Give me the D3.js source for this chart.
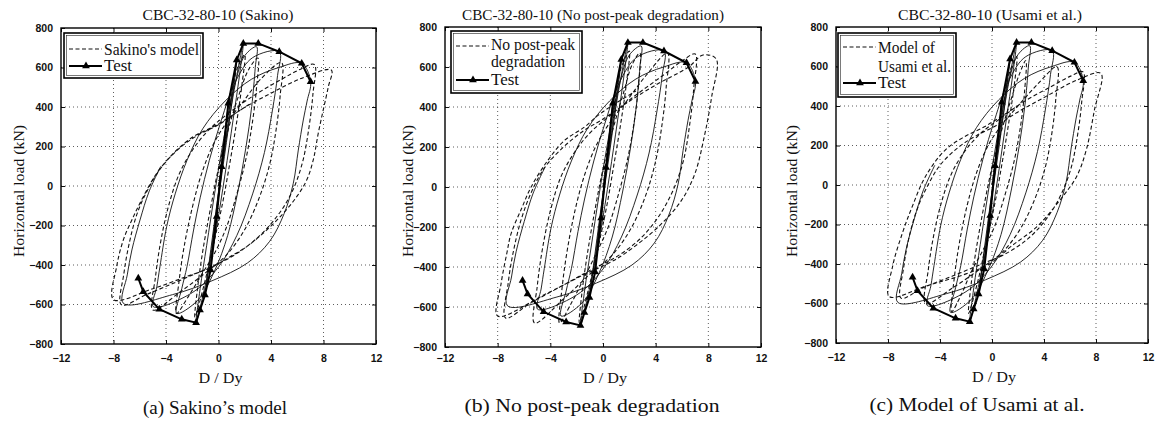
<!DOCTYPE html>
<html>
<head>
<meta charset="utf-8">
<script src="https://cdn.jsdelivr.net/npm/d3@7"></script>
<style>
  body { margin: 0; background: #fff; }
  svg { display: block; }
</style>
</head>
<body>
<svg id="chart" width="1159" height="426"></svg>
<script>
// Tick values
const xTicks = [-12, -8, -4, 0, 4, 8, 12];
const yTicks = [-800, -600, -400, -200, 0, 200, 400, 600, 800];

// Test: thick skeleton with triangle markers (same test in all panels)
const testEnvelope = [
  [-6.11, -467], [-5.73, -535], [-4.51, -624], [-2.80, -675], [-1.71, -692],
  [-1.41, -628], [-1.03, -552], [-0.60, -425], [-0.14, -155], [0.24, 98],
  [0.75, 419], [1.39, 638], [1.89, 722], [3.03, 722], [4.63, 680],
  [6.34, 621], [7.02, 528]
];

// Test: thin hysteresis curve
const testCurve = [
  [0, 0], [0.24, 98], [0.75, 419], [0.5, 260], [0.05, 0], [-0.3, -200], [-0.6, -425],
  [-0.35, -250], [0.1, 0], [0.6, 260], [1.39, 638], [1.1, 470], [0.6, 220], [0, -60],
  [-0.5, -300], [-1.03, -552], [-0.7, -380], [-0.2, -130], [0.4, 150], [1.1, 450],
  [1.89, 722], [1.6, 560], [1.1, 330], [0.5, 60], [-0.2, -230], [-0.9, -470],
  [-1.71, -692], [-1.4, -520], [-0.9, -300], [-0.3, -40], [0.4, 240], [1.2, 500],
  [2.0, 660], [2.9, 705], [2.8, 600], [2.53, 402], [2.1, 200], [1.5, -20], [0.7, -250],
  [-0.3, -430], [-1.6, -580], [-3.19, -645], [-2.8, -520], [-2.4, -408], [-1.9, -223],
  [-1.4, -60], [-0.7, 130], [0.2, 330], [1.3, 530], [2.6, 650], [4.63, 680], [4.5, 560],
  [4.1, 380], [3.5, 170], [2.6, -40], [1.4, -250], [0, -410], [-2, -540], [-4.97, -611],
  [-4.7, -510], [-4.46, -408], [-3.95, -206], [-3.3, -40], [-2.4, 130], [-1.2, 290],
  [0.5, 430], [2.5, 540], [4.6, 600], [6.34, 621], [7.02, 528], [6.75, 430], [6.46, 334],
  [6.08, 182], [5.7, 14], [5.0, -140], [3.9, -280], [2.2, -390], [-0.5, -480],
  [-3.5, -550], [-7.25, -594], [-6.95, -450], [-6.6, -324], [-5.98, -172], [-5.3, -30],
  [-4.4, 100]
];

// Model (a): Sakino
const modelSakino = [
  [0, 0], [0.4, 200], [0.9, 420], [1.4, 590], [2.0, 665],
  [1.8, 520], [1.4, 330], [0.9, 130], [0.3, -90], [-0.4, -300], [-1.1, -500], [-1.8, -665],
  [-1.6, -520], [-1.2, -330], [-0.6, -110], [0, 90], [0.8, 300], [1.6, 470], [2.3, 590], [3.0, 648],
  [2.9, 500], [2.6, 330], [2.1, 140], [1.4, -40], [0.6, -210], [-0.3, -340], [-1.3, -450], [-2.3, -560], [-3.2, -645],
  [-3.0, -480], [-2.6, -300], [-2.0, -110], [-1.3, 60], [-0.4, 210], [0.6, 320], [1.8, 420], [3.2, 540], [4.8, 625],
  [4.7, 460], [4.4, 290], [3.9, 110], [3.1, -60], [2.0, -220], [0.6, -350], [-1.0, -440], [-3.0, -540], [-5.0, -628],
  [-4.8, -460], [-4.4, -280], [-3.8, -100], [-3.0, 60], [-2.0, 180], [-0.8, 280], [0.6, 360], [2.5, 450], [4.8, 540], [6.2, 590], [7.3, 615],
  [7.2, 470], [6.9, 300], [6.4, 120], [5.6, -30], [4.5, -150], [3.0, -260], [1.2, -350], [-0.6, -410], [-3, -480], [-5.5, -550], [-7.4, -602],
  [-7.2, -440], [-6.8, -290], [-6.2, -140], [-5.4, -20], [-4.4, 90], [-3.0, 190], [-1.5, 260], [0, 310], [1.8, 390], [4.0, 470], [6.5, 550], [8.6, 587],
  [8.37, 503], [7.98, 385], [7.6, 267], [7.22, 132], [6.72, 30], [5.96, -54], [4.94, -138], [3.67, -223], [2.15, -307], [0.88, -358], [-0.4, -408], [-2.5, -460], [-5, -520], [-8.0, -575],
  [-7.76, -408], [-7.25, -273], [-6.6, -172], [-5.73, -54], [-4.71, 64], [-3.44, 165], [-1.92, 250], [-0.4, 300], [0.88, 351], [2.5, 420]
];

// Model (b): no post-peak degradation
const modelNoDeg = [
  [0, 0], [0.4, 200], [0.9, 430], [1.4, 600], [2.0, 680],
  [1.8, 530], [1.4, 340], [0.9, 140], [0.3, -90], [-0.4, -310], [-1.1, -510], [-1.8, -680],
  [-1.6, -530], [-1.2, -340], [-0.6, -110], [0, 90], [0.8, 300], [1.6, 480], [2.2, 610], [2.8, 670],
  [2.7, 510], [2.4, 340], [1.9, 150], [1.2, -30], [0.4, -200], [-0.5, -330], [-1.4, -450], [-2.4, -580], [-3.3, -680],
  [-3.1, -500], [-2.7, -310], [-2.1, -110], [-1.4, 60], [-0.5, 210], [0.5, 320], [1.8, 430], [3.3, 560], [4.9, 670],
  [4.8, 500], [4.5, 320], [4.0, 130], [3.2, -50], [2.1, -210], [0.7, -340], [-0.9, -430], [-3.0, -560], [-5.2, -680],
  [-5.0, -500], [-4.6, -310], [-4.0, -120], [-3.2, 50], [-2.2, 170], [-1.0, 270], [0.4, 350], [2.3, 450], [4.6, 560], [6.0, 630], [7.0, 665],
  [6.9, 500], [6.6, 320], [6.1, 130], [5.3, -20], [4.2, -150], [2.8, -260], [1.0, -350], [-0.8, -410], [-3, -490], [-5.5, -580], [-7.4, -655],
  [-7.2, -480], [-6.8, -320], [-6.2, -160], [-5.4, -20], [-4.4, 100], [-3.0, 200], [-1.5, 280], [0, 340], [1.8, 420], [4.0, 510], [6.5, 600], [7.6, 660], [8.6, 640],
  [8.25, 450], [7.74, 267], [6.98, 67], [5.96, -67], [4.19, -200], [1.65, -333], [0.38, -383], [-1.5, -440], [-4.5, -540], [-8.0, -645],
  [-7.74, -483], [-7.3, -330], [-6.98, -233], [-6.2, -110], [-5.46, 0], [-4.19, 133], [-2.92, 233], [-1.4, 300], [-0.38, 358], [1.0, 420], [2.5, 480]
];

// Model (c): Usami et al.
const modelUsami = [
  [0, 0], [0.4, 200], [0.9, 420], [1.4, 580], [1.9, 650],
  [1.7, 500], [1.3, 320], [0.8, 120], [0.2, -100], [-0.5, -310], [-1.1, -490], [-1.8, -650],
  [-1.6, -500], [-1.2, -320], [-0.6, -100], [0, 90], [0.8, 290], [1.5, 440], [2.1, 560], [2.6, 630],
  [2.5, 470], [2.2, 300], [1.7, 120], [1.0, -50], [0.2, -210], [-0.7, -330], [-1.6, -440], [-2.4, -560], [-3.1, -641],
  [-2.9, -470], [-2.5, -290], [-1.9, -100], [-1.2, 60], [-0.3, 200], [0.7, 300], [2.0, 400], [3.5, 510], [5.0, 599],
  [4.9, 430], [4.6, 260], [4.1, 90], [3.3, -70], [2.2, -220], [0.8, -340], [-0.8, -420], [-3.0, -520], [-5.1, -600],
  [-4.9, -430], [-4.5, -260], [-3.9, -90], [-3.1, 60], [-2.1, 170], [-0.9, 260], [0.5, 330], [2.4, 420], [4.6, 500], [6.0, 550], [7.0, 573],
  [6.9, 420], [6.6, 260], [6.1, 90], [5.3, -50], [4.2, -170], [2.8, -270], [1.0, -350], [-0.8, -400], [-3, -460], [-5.3, -520], [-7.0, -573],
  [-6.8, -420], [-6.4, -270], [-5.8, -130], [-5.0, -10], [-4.0, 100], [-2.6, 190], [-1.2, 250], [0.3, 300], [2.0, 370], [4.2, 450], [6.5, 530], [8.38, 565],
  [7.88, 380], [7.25, 177], [6.5, 42], [5.23, -76], [3.46, -211], [1.44, -312], [-0.08, -396], [-2, -450], [-5, -510], [-7.9, -565],
  [-7.65, -413], [-6.9, -245], [-6.14, -110], [-5.13, 42], [-3.6, 177], [-2.1, 245], [-0.58, 295], [0.68, 346], [2.2, 410]
];

// layout: plot box [left, right, top, bottom], text widths
const panels = [
  { box: [61, 376, 28, 344], title: 'CBC-32-80-10 (Sakino)', titleW: 151, titleX: 218,
    caption: '(a) Sakino\u2019s model', capW: 144, capX: 215, capY: 414, dyY: 383, ylabX: 19, tickPad: 11,
    model: modelSakino, legendLines: ["Sakino's model"], legendW: [95],
    legendBox: [64, 33, 139, 45], legendBase: [55], testBase: 71, dashY: 49, testY: 66 },
  { box: [445, 761, 27, 347], title: 'CBC-32-80-10 (No post-peak degradation)', titleW: 262, titleX: 593,
    caption: '(b) No post-peak degradation', capW: 255, capX: 592, capY: 412, dyY: 383, ylabX: 408, tickPad: 8,
    model: modelNoDeg, legendLines: ['No post-peak', 'degradation'], legendW: [84, 74],
    legendBox: [451, 31, 131, 62], legendBase: [50, 67], testBase: 85, dashY: 46, testY: 80 },
  { box: [836, 1148, 27, 343], title: 'CBC-32-80-10 (Usami et al.)', titleW: 184, titleX: 990,
    caption: '(c) Model of Usami at al.', capW: 215, capX: 977, capY: 411, dyY: 382, ylabX: 792, tickPad: 11,
    model: modelUsami, legendLines: ['Model of', 'Usami et al.'], legendW: [57, 73],
    legendBox: [838, 33, 118, 64], legendBase: [53, 72], testBase: 88, dashY: 47, testY: 83 }
];

const svg = d3.select('#chart');
const serif = '"Liberation Serif", "Times New Roman", serif';
const sans = '"Liberation Sans", Arial, sans-serif';
const tri = d3.symbol().type(d3.symbolTriangle).size(26);

panels.forEach(p => {
  const [left, right, top, bottom] = p.box;
  const x = d3.scaleLinear().domain([-12, 12]).range([left, right]);
  const y = d3.scaleLinear().domain([-800, 800]).range([bottom, top]);
  const g = svg.append('g');

  // dotted grid
  g.selectAll('.gx').data(xTicks.slice(1, -1)).enter().append('line')
    .attr('x1', d => x(d)).attr('x2', d => x(d)).attr('y1', top).attr('y2', bottom)
    .attr('stroke', '#333').attr('stroke-width', 0.8).attr('stroke-dasharray', '1,3');
  g.selectAll('.gy').data(yTicks.slice(1, -1)).enter().append('line')
    .attr('x1', left).attr('x2', right).attr('y1', d => y(d)).attr('y2', d => y(d))
    .attr('stroke', '#333').attr('stroke-width', 0.8).attr('stroke-dasharray', '1,3');

  // axes with inward ticks
  const ax = g.append('g').attr('transform', `translate(0,${bottom})`)
    .call(d3.axisBottom(x).tickValues(xTicks).tickSizeInner(-4).tickSizeOuter(0).tickPadding(p.tickPad));
  const ay = g.append('g').attr('transform', `translate(${left},0)`)
    .call(d3.axisLeft(y).tickValues(yTicks).tickSizeInner(-4).tickSizeOuter(0).tickPadding(8));
  g.append('g').attr('transform', `translate(0,${top})`)
    .call(d3.axisTop(x).tickValues(xTicks).tickSizeInner(-4).tickSizeOuter(0).tickFormat(''));
  g.append('g').attr('transform', `translate(${right},0)`)
    .call(d3.axisRight(y).tickValues(yTicks).tickSizeInner(-4).tickSizeOuter(0).tickFormat(''));
  g.selectAll('.domain').remove();
  g.selectAll('.tick line').attr('stroke', '#111');
  [ax, ay].forEach(a => a.selectAll('text')
    .style('font-family', sans).style('font-size', '10.5px').style('font-weight', 'bold').attr('fill', '#111'));

  // curves
  const line = d3.line().x(d => x(d[0])).y(d => y(d[1])).curve(d3.curveCatmullRom.alpha(0.5));
  g.append('path').datum(p.model).attr('d', line)
    .attr('fill', 'none').attr('stroke', '#111').attr('stroke-width', 1.1).attr('stroke-dasharray', '4,2.5');
  g.append('path').datum(testCurve).attr('d', line)
    .attr('fill', 'none').attr('stroke', '#111').attr('stroke-width', 0.9);
  const lin = d3.line().x(d => x(d[0])).y(d => y(d[1]));
  g.append('path').datum(testEnvelope).attr('d', lin)
    .attr('fill', 'none').attr('stroke', '#000').attr('stroke-width', 2);
  g.selectAll('.mk').data(testEnvelope).enter().append('path')
    .attr('d', tri).attr('transform', d => `translate(${x(d[0])},${y(d[1])})`).attr('fill', '#000');

  // frame
  g.append('rect').attr('x', left).attr('y', top).attr('width', right - left).attr('height', bottom - top)
    .attr('fill', 'none').attr('stroke', '#000').attr('stroke-width', 1.4);

  // legend
  const [lx, ly, lw, lh] = p.legendBox;
  g.append('rect').attr('x', lx).attr('y', ly).attr('width', lw).attr('height', lh)
    .attr('fill', '#fff').attr('stroke', '#000').attr('stroke-width', 1.6);
  g.append('rect').attr('x', lx + 2.5).attr('y', ly + 2.5).attr('width', lw - 5).attr('height', lh - 5)
    .attr('fill', 'none').attr('stroke', '#222').attr('stroke-width', 0.6);
  g.append('line').attr('x1', lx + 5).attr('x2', lx + 38).attr('y1', p.dashY).attr('y2', p.dashY)
    .attr('stroke', '#111').attr('stroke-width', 1.1).attr('stroke-dasharray', '4,2.5');
  p.legendLines.forEach((t, i) => {
    g.append('text').attr('x', lx + 40).attr('y', p.legendBase[i]).text(t)
      .attr('textLength', p.legendW[i]).attr('lengthAdjust', 'spacingAndGlyphs')
      .style('font-family', serif).style('font-size', '16px').attr('fill', '#111');
  });
  g.append('line').attr('x1', lx + 5).attr('x2', lx + 38).attr('y1', p.testY).attr('y2', p.testY)
    .attr('stroke', '#000').attr('stroke-width', 2);
  g.append('path').attr('d', tri).attr('transform', `translate(${lx + 22},${p.testY})`).attr('fill', '#000');
  g.append('text').attr('x', lx + 40).attr('y', p.testBase).text('Test')
    .attr('textLength', 28).attr('lengthAdjust', 'spacingAndGlyphs')
    .style('font-family', serif).style('font-size', '16px').attr('fill', '#111');

  // titles
  g.append('text').attr('x', p.titleX).attr('y', 20).attr('text-anchor', 'middle').text(p.title)
    .attr('textLength', p.titleW).attr('lengthAdjust', 'spacingAndGlyphs')
    .style('font-family', serif).style('font-size', '14.5px').attr('fill', '#111');
  g.append('text').attr('x', (left + right) / 2 + 2).attr('y', p.dyY).attr('text-anchor', 'middle').text('D / Dy')
    .attr('textLength', 44).attr('lengthAdjust', 'spacingAndGlyphs')
    .style('font-family', serif).style('font-size', '15px').attr('fill', '#111');
  g.append('text').attr('transform', `translate(${p.ylabX + 5},191) rotate(-90)`)
    .attr('text-anchor', 'middle').text('Horizontal load (kN)')
    .attr('textLength', 132).attr('lengthAdjust', 'spacingAndGlyphs')
    .style('font-family', serif).style('font-size', '15.5px').attr('fill', '#111');
  g.append('text').attr('x', p.capX).attr('y', p.capY).attr('text-anchor', 'middle').text(p.caption)
    .attr('textLength', p.capW).attr('lengthAdjust', 'spacingAndGlyphs')
    .style('font-family', serif).style('font-size', '19px').attr('fill', '#111');
});
</script>
</body>
</html>
